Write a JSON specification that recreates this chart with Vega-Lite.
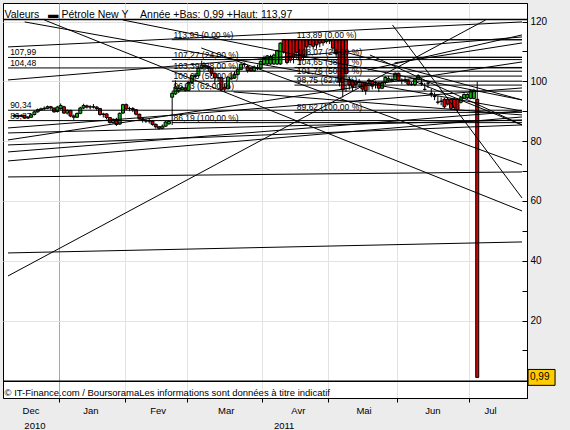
{
"$schema": "https://vega.github.io/schema/vega-lite/v6.json",
"width": 524, "height": 395,
"autosize": {"type": "none"},
"padding": {"left": 3, "top": 3, "right": 43, "bottom": 32},
"background": "#ececec",
"config": {"view": {"stroke": "#000", "strokeWidth": 1, "fill": "#ffffff"}, "font": "Liberation Sans",
  "axis": {"labelFont": "Liberation Sans", "titleFont": "Liberation Sans", "labelColor": "#000", "titleColor": "#000", "titleFontWeight": "normal", "labelFlush": false, "labelBound": false}},
"datasets": {
"candles": [
{"i":-14,"o":88.3,"h":89.1,"l":88.0,"c":88.6},{"i":-13,"o":88.6,"h":88.9,"l":87.9,"c":88.3},{"i":-12,"o":88.3,"h":89.0,"l":88.0,"c":88.6},{"i":-11,"o":88.6,"h":88.8,"l":87.5,"c":87.9},{"i":-10,"o":87.8,"h":88.4,"l":87.4,"c":88.0},{"i":-9,"o":88.0,"h":89.2,"l":87.8,"c":88.8},{"i":-8,"o":88.9,"h":90.2,"l":88.6,"c":89.8},{"i":-7,"o":89.8,"h":90.9,"l":89.5,"c":90.5},{"i":-6,"o":90.4,"h":91.2,"l":90.1,"c":90.8},{"i":-5,"o":90.8,"h":91.6,"l":90.3,"c":91.0},{"i":-4,"o":91.0,"h":91.9,"l":90.7,"c":91.5},{"i":-3,"o":91.5,"h":91.8,"l":90.5,"c":91.1},{"i":-2,"o":91.0,"h":91.3,"l":89.5,"c":89.8},{"i":-1,"o":89.9,"h":91.8,"l":89.6,"c":91.4},
{"i":0,"o":90.9,"h":92.6,"l":90.5,"c":91.9},{"i":1,"o":91.5,"h":91.8,"l":89.1,"c":89.4},{"i":2,"o":89.4,"h":90.6,"l":88.9,"c":90.3},{"i":3,"o":90.3,"h":90.5,"l":88.0,"c":88.4},{"i":4,"o":88.4,"h":88.9,"l":87.1,"c":88.0},{"i":5,"o":88.0,"h":89.6,"l":87.7,"c":89.25},{"i":6,"o":89.3,"h":91.5,"l":89.0,"c":91.1},{"i":7,"o":91.1,"h":92.5,"l":90.7,"c":91.9},{"i":8,"o":91.8,"h":92.2,"l":90.9,"c":91.4},{"i":9,"o":91.4,"h":92.0,"l":90.6,"c":91.5},{"i":10,"o":91.5,"h":92.4,"l":90.9,"c":91.4},{"i":11,"o":91.4,"h":91.7,"l":90.2,"c":90.9},{"i":12,"o":90.9,"h":91.1,"l":88.5,"c":88.9},{"i":13,"o":88.9,"h":89.5,"l":87.9,"c":89.1},{"i":14,"o":89.1,"h":89.3,"l":87.3,"c":87.9},{"i":15,"o":87.9,"h":88.1,"l":85.9,"c":86.2},{"i":16,"o":86.2,"h":87.6,"l":85.8,"c":87.3},{"i":17,"o":87.3,"h":87.8,"l":85.1,"c":85.6},{"i":18,"o":85.7,"h":89.6,"l":85.5,"c":89.3},{"i":19,"o":89.4,"h":92.5,"l":89.1,"c":92.2},
{"i":20,"o":92.2,"h":92.6,"l":90.4,"c":90.8},{"i":21,"o":90.9,"h":91.5,"l":90.0,"c":90.9},{"i":22,"o":90.9,"h":91.4,"l":89.7,"c":90.5},{"i":23,"o":90.5,"h":90.7,"l":88.6,"c":89.0},{"i":24,"o":89.0,"h":89.2,"l":87.2,"c":87.5},{"i":25,"o":87.5,"h":87.9,"l":86.2,"c":86.9},{"i":26,"o":86.9,"h":87.6,"l":86.1,"c":86.7},{"i":27,"o":86.8,"h":87.4,"l":85.9,"c":86.7},{"i":28,"o":86.7,"h":87.0,"l":85.2,"c":85.6},{"i":29,"o":85.6,"h":85.9,"l":84.2,"c":84.8},{"i":30,"o":84.8,"h":85.1,"l":83.8,"c":84.3},{"i":31,"o":84.3,"h":85.6,"l":84.0,"c":85.0},{"i":32,"o":85.0,"h":86.7,"l":84.8,"c":86.4},{"i":33,"o":85.8,"h":86.9,"l":85.5,"c":86.6},{"i":34,"o":94.7,"h":96.6,"l":85.4,"c":96.0},{"i":35,"o":95.8,"h":100.3,"l":95.5,"c":98.1},{"i":36,"o":96.8,"h":98.8,"l":96.1,"c":97.6},{"i":37,"o":97.2,"h":98.5,"l":96.8,"c":97.9},{"i":38,"o":97.8,"h":99.2,"l":96.6,"c":97.0},
{"i":39,"o":97.0,"h":100.0,"l":96.8,"c":99.6},{"i":40,"o":99.6,"h":102.2,"l":99.3,"c":101.9},{"i":41,"o":101.6,"h":102.8,"l":100.6,"c":101.9},{"i":42,"o":101.9,"h":104.9,"l":101.6,"c":104.4},{"i":43,"o":104.4,"h":106.9,"l":104.0,"c":105.4},{"i":44,"o":105.4,"h":105.9,"l":103.8,"c":105.0},{"i":45,"o":105.0,"h":105.3,"l":103.2,"c":104.4},{"i":46,"o":104.4,"h":104.6,"l":101.8,"c":102.7},{"i":47,"o":102.7,"h":103.0,"l":99.0,"c":101.2},{"i":48,"o":101.3,"h":102.4,"l":100.0,"c":101.2},{"i":49,"o":101.2,"h":101.5,"l":96.8,"c":97.2},{"i":50,"o":98.0,"h":99.3,"l":96.5,"c":97.4},{"i":51,"o":97.5,"h":101.9,"l":97.3,"c":101.4},{"i":52,"o":100.8,"h":103.1,"l":100.5,"c":101.1},{"i":53,"o":101.1,"h":103.3,"l":100.8,"c":102.3},{"i":54,"o":102.3,"h":104.3,"l":102.0,"c":104.0},{"i":55,"o":104.0,"h":106.0,"l":103.7,"c":105.75},{"i":56,"o":105.75,"h":106.3,"l":104.8,"c":105.6},{"i":57,"o":105.0,"h":105.5,"l":102.9,"c":103.6},{"i":58,"o":104.4,"h":104.8,"l":103.2,"c":103.5},{"i":59,"o":103.5,"h":105.3,"l":103.2,"c":104.8},{"i":60,"o":104.5,"h":105.6,"l":103.7,"c":104.3},{"i":61,"o":104.3,"h":107.0,"l":104.0,"c":106.7},
{"i":62,"o":105.8,"h":108.6,"l":105.5,"c":107.9},{"i":63,"o":105.8,"h":108.8,"l":105.5,"c":108.5},{"i":64,"o":105.8,"h":108.9,"l":105.5,"c":108.3},{"i":65,"o":105.8,"h":109.3,"l":105.5,"c":108.8},{"i":66,"o":105.8,"h":110.6,"l":105.5,"c":110.3},{"i":67,"o":105.8,"h":113.0,"l":105.5,"c":112.8},{"i":68,"o":113.93,"h":113.93,"l":109.3,"c":109.9},{"i":69,"o":113.93,"h":113.93,"l":105.7,"c":106.3},{"i":70,"o":113.93,"h":113.93,"l":106.2,"c":107.1},{"i":71,"o":113.93,"h":113.93,"l":106.0,"c":108.1},{"i":72,"o":113.93,"h":113.93,"l":107.5,"c":109.7},{"i":73,"o":113.93,"h":113.93,"l":105.4,"c":107.1},{"i":74,"o":113.93,"h":113.93,"l":106.9,"c":108.2},{"i":75,"o":113.93,"h":113.93,"l":108.3,"c":111.5},{"i":76,"o":113.93,"h":113.93,"l":111.0,"c":112.3},{"i":77,"o":113.93,"h":113.93,"l":110.6,"c":111.7},{"i":78,"o":113.93,"h":113.93,"l":110.9,"c":112.2},{"i":79,"o":113.93,"h":113.93,"l":111.4,"c":112.8},{"i":80,"o":113.93,"h":113.93,"l":111.9,"c":112.9},{"i":81,"o":113.3,"h":114.3,"l":112.6,"c":113.9},
{"i":82,"o":113.89,"h":114.0,"l":112.5,"c":113.5},{"i":83,"o":113.89,"h":113.89,"l":110.0,"c":111.1},{"i":84,"o":113.89,"h":113.89,"l":108.0,"c":109.2},{"i":85,"o":113.89,"h":113.89,"l":98.3,"c":99.8},{"i":86,"o":113.89,"h":113.89,"l":94.6,"c":97.2},{"i":87,"o":113.89,"h":113.89,"l":96.5,"c":102.6},{"i":88,"o":100.6,"h":101.6,"l":97.2,"c":98.8},{"i":89,"o":100.2,"h":100.7,"l":96.8,"c":98.2},{"i":90,"o":99.8,"h":100.5,"l":97.6,"c":99.0},{"i":91,"o":100.0,"h":100.8,"l":98.2,"c":99.6},{"i":92,"o":99.6,"h":99.9,"l":96.5,"c":97.4},{"i":93,"o":99.5,"h":99.8,"l":95.5,"c":96.9},{"i":94,"o":100.4,"h":101.0,"l":97.0,"c":100.1},{"i":95,"o":100.1,"h":100.5,"l":97.3,"c":98.4},{"i":96,"o":99.6,"h":100.2,"l":97.6,"c":99.5},{"i":97,"o":99.5,"h":99.9,"l":96.4,"c":97.7},{"i":98,"o":97.7,"h":100.0,"l":97.4,"c":99.6},{"i":99,"o":99.6,"h":101.7,"l":99.0,"c":101.3},{"i":100,"o":100.4,"h":101.8,"l":99.8,"c":100.9},{"i":101,"o":100.2,"h":101.3,"l":99.7,"c":100.6},{"i":102,"o":100.6,"h":103.0,"l":100.3,"c":102.7},
{"i":103,"o":102.7,"h":102.9,"l":100.0,"c":100.3},{"i":104,"o":100.3,"h":101.0,"l":99.0,"c":100.4},{"i":105,"o":100.4,"h":101.5,"l":99.4,"c":100.2},{"i":106,"o":100.2,"h":100.7,"l":98.6,"c":99.0},{"i":107,"o":99.0,"h":99.8,"l":98.5,"c":98.9},{"i":108,"o":98.9,"h":101.0,"l":98.4,"c":100.7},{"i":109,"o":100.7,"h":102.4,"l":100.4,"c":101.9},{"i":110,"o":99.4,"h":101.0,"l":98.5,"c":99.3},{"i":111,"o":97.3,"h":99.5,"l":96.9,"c":97.3},{"i":112,"o":99.4,"h":99.9,"l":97.8,"c":99.4},{"i":113,"o":96.0,"h":97.5,"l":94.7,"c":95.9},{"i":114,"o":95.0,"h":96.3,"l":93.7,"c":94.9},{"i":115,"o":93.1,"h":95.1,"l":92.3,"c":93.0},{"i":116,"o":93.4,"h":94.6,"l":92.0,"c":93.3},{"i":117,"o":94.0,"h":94.4,"l":91.0,"c":91.5},{"i":118,"o":94.0,"h":94.5,"l":91.9,"c":92.4},{"i":119,"o":94.0,"h":94.4,"l":90.4,"c":91.0},{"i":120,"o":94.0,"h":94.4,"l":90.3,"c":91.2},{"i":121,"o":94.0,"h":94.3,"l":89.7,"c":90.6},{"i":122,"o":93.0,"h":94.9,"l":92.6,"c":94.5},{"i":123,"o":94.3,"h":96.0,"l":94.0,"c":95.6},{"i":124,"o":94.5,"h":96.0,"l":94.1,"c":95.6},
{"i":125,"o":94.3,"h":97.3,"l":94.0,"c":96.8},{"i":126,"o":94.3,"h":97.5,"l":94.0,"c":97.0},{"i":127,"o":94.0,"h":99.9,"l":0.99,"c":0.99}
],
"lines": [
{"i":-16.05,"i2":129.58,"p":34.92,"p2":120.53},{"i":-4.99,"i2":140.65,"p":120.53,"p2":56.66},{"i":42.86,"i2":140.65,"p":111.17,"p2":72.04},{"i":101.17,"i2":140.65,"p":118.86,"p2":61.0},{"i":-16.05,"i2":140.65,"p":68.03,"p2":69.7},{"i":-16.05,"i2":140.65,"p":42.61,"p2":46.29},{"i":-16.05,"i2":140.65,"p":80.4,"p2":106.49},{"i":-16.05,"i2":140.65,"p":76.39,"p2":90.1},{"i":-16.05,"i2":140.65,"p":73.38,"p2":88.09},{"i":-10.97,"i2":140.65,"p":119.87,"p2":90.1},{"i":-16.05,"i2":140.65,"p":84.41,"p2":97.79},{"i":-16.05,"i2":140.65,"p":111.51,"p2":119.87},{"i":18.94,"i2":140.65,"p":120.53,"p2":93.78},{"i":52.73,"i2":140.65,"p":96.45,"p2":88.76},{"i":94.3,"i2":140.65,"p":108.83,"p2":85.42},{"i":108.35,"i2":140.65,"p":99.8,"p2":85.42},{"i":87.72,"i2":140.65,"p":109.5,"p2":93.78},{"i":93.7,"i2":140.65,"p":103.81,"p2":115.52},{"i":101.77,"i2":140.65,"p":106.15,"p2":112.84},{"i":-16.05,"i2":140.65,"p":100.47,"p2":114.85},{"i":-16.05,"i2":140.65,"p":82.74,"p2":87.09},{"i":-16.05,"i2":140.65,"p":78.73,"p2":85.42},
{"i":-16.05,"i2":140.65,"p":107.99,"p2":107.99},{"i":-16.05,"i2":140.65,"p":104.48,"p2":104.48},{"i":-16.05,"i2":140.65,"p":90.34,"p2":90.34},{"i":-16.05,"i2":140.65,"p":86.87,"p2":86.87},
{"i":33.89,"i2":140.65,"p":113.93,"p2":113.93},{"i":33.89,"i2":140.65,"p":107.27,"p2":107.27},{"i":33.89,"i2":140.65,"p":103.39,"p2":103.39},{"i":33.89,"i2":140.65,"p":100.06,"p2":100.06},{"i":33.89,"i2":140.65,"p":96.73,"p2":96.73},{"i":33.89,"i2":140.65,"p":86.19,"p2":86.19},
{"i":71.27,"i2":140.65,"p":113.89,"p2":113.89},{"i":71.27,"i2":140.65,"p":108.07,"p2":108.07},{"i":71.27,"i2":140.65,"p":104.65,"p2":104.65},{"i":71.27,"i2":140.65,"p":101.76,"p2":101.76},{"i":71.27,"i2":140.65,"p":98.75,"p2":98.75},{"i":71.27,"i2":140.65,"p":89.62,"p2":89.62}
],
"labels": [
{"i":-15.4,"p":107.99,"t":"107,99"},{"i":-15.4,"p":104.48,"t":"104,48"},{"i":-15.4,"p":90.34,"t":"90,34"},{"i":-15.4,"p":86.87,"t":"86,87"},
{"i":34.4,"p":113.93,"t":"113,93 (0,00 %)"},{"i":34.4,"p":107.27,"t":"107,27 (24,00 %)"},{"i":34.4,"p":103.39,"t":"103,39 (38,00 %)"},{"i":34.4,"p":100.06,"t":"100,06 (50,00 %)"},{"i":34.4,"p":96.73,"t":"96,73 (62,00 %)"},{"i":34.4,"p":86.19,"t":"86,19 (100,00 %)"},
{"i":72.0,"p":113.89,"t":"113,89 (0,00 %)"},{"i":72.0,"p":108.07,"t":"108,07 (24,00 %)"},{"i":72.0,"p":104.65,"t":"104,65 (38,00 %)"},{"i":72.0,"p":101.76,"t":"101,76 (50,00 %)"},{"i":72.0,"p":98.75,"t":"98,75 (62,00 %)"},{"i":72.0,"p":89.62,"t":"89,62 (100,00 %)"}
],
"frame": [{"p":120.7},{"p":-0.3}],
"tag": [{"p":0.99,"t":"0,99"}]
},
"layer": [
{"data": {"name": "candles"}, "mark": {"type": "rule", "color": "#000", "strokeWidth": 1},
 "encoding": {
  "x": {"field": "i", "type": "quantitative", "scale": {"domain": [-16.05, 140.65], "nice": false, "zero": false},
        "axis": {"orient": "bottom", "values": [-0.5, 19.5, 38.5, 61.5, 81.5, 102.5, 124.5], "labels": false, "ticks": true, "tickSize": 4, "tickColor": "#000", "domain": true, "domainColor": "#000",
                 "grid": true, "gridColor": {"condition": {"test": "datum.value < 0", "value": "#a8a8a8"}, "value": "#e3e3e3"},
                 "title": "© IT-Finance.com / BoursoramaLes informations sont données à titre indicatif", "titleX": 1, "titleY": -6, "titleAlign": "left", "titleBaseline": "middle", "titleFontSize": 9.5}},
  "y": {"field": "l", "type": "quantitative", "scale": {"domain": [-5.9, 126.2], "nice": false, "zero": false}, "axis": null},
  "y2": {"field": "h"}}},
{"data": {"name": "candles"}, "mark": {"type": "bar", "size": 3, "stroke": "#000", "strokeWidth": 1},
 "encoding": {
  "x": {"field": "i", "type": "quantitative", "scale": {"domain": [-16.05, 140.65], "nice": false, "zero": false},
        "axis": {"orient": "bottom", "values": [-9.2, 9.07, 29.55, 50.34, 72.3, 92.35, 113.3, 130.9], "ticks": false, "tickSize": 0, "domain": false, "grid": false, "labelPadding": 7, "labelFontSize": 9.5,
                 "labelExpr": "datum.value < 0 ? 'Dec' : datum.value < 20 ? 'Jan' : datum.value < 40 ? 'Fev' : datum.value < 60 ? 'Mar' : datum.value < 80 ? 'Avr' : datum.value < 100 ? 'Mai' : datum.value < 120 ? 'Jun' : 'Jul'", "title": null}},
  "y": {"field": "o", "type": "quantitative", "scale": {"domain": [-5.9, 126.2], "nice": false, "zero": false},
        "axis": {"orient": "right", "values": [10,20,30,40,50,60,70,80,90,100,110,120], "labelExpr": "datum.value % 20 == 0 ? datum.value : ''", "tickSize": -5, "tickColor": "#000", "labelPadding": 8, "labelFontSize": 10, "domain": true, "domainColor": "#000",
                 "grid": true, "gridColor": "#e3e3e3", "gridOpacity": {"condition": {"test": "datum.value % 20 == 0", "value": 1}, "value": 0},
                 "title": "Valeurs\u00a0\u00a0\u00a0▬\u00a0Pétrole New Y\u00a0\u00a0\u00a0\u00a0Année +Bas: 0,99 +Haut: 113,97", "titleAngle": 0, "titleX": -523, "titleY": 11, "titleAlign": "left", "titleBaseline": "middle", "titleFontSize": 10.5}},
  "y2": {"field": "c"},
  "color": {"condition": {"test": "datum.c >= datum.o", "value": "#0fb80f"}, "value": "#d80000"}}},
{"data": {"name": "lines"}, "mark": {"type": "rule", "color": "#000", "strokeWidth": 1},
 "encoding": {
  "x": {"field": "i", "type": "quantitative", "scale": {"domain": [-16.05, 140.65], "nice": false, "zero": false}, "axis": null},
  "x2": {"field": "i2"},
  "y": {"field": "p", "type": "quantitative", "scale": {"domain": [-5.9, 126.2], "nice": false, "zero": false}, "axis": null},
  "y2": {"field": "p2"}}},
{"data": {"name": "frame"}, "mark": {"type": "rule", "color": "#000", "strokeWidth": 1.5},
 "encoding": {
  "y": {"field": "p", "type": "quantitative", "scale": {"domain": [-5.9, 126.2], "nice": false, "zero": false}, "axis": null}}},
{"data": {"name": "labels"}, "mark": {"type": "text", "align": "left", "baseline": "alphabetic", "dy": -2, "fontSize": 8.5, "color": "#000"},
 "encoding": {
  "x": {"field": "i", "type": "quantitative", "scale": {"domain": [-16.05, 140.65], "nice": false, "zero": false},
        "axis": {"orient": "bottom", "values": [-8.0, 68.0], "ticks": false, "tickSize": 0, "domain": false, "grid": false, "labelPadding": 22, "labelFontSize": 9.5, "labelExpr": "datum.value < 0 ? '2010' : '2011'", "title": null}},
  "y": {"field": "p", "type": "quantitative", "scale": {"domain": [-5.9, 126.2], "nice": false, "zero": false}, "axis": null},
  "text": {"field": "t"}}},
{"data": {"name": "tag"}, "mark": {"type": "point", "shape": "M0.07,-0.53H1.87V0.53H0.07Z", "size": 900, "filled": true, "fill": "#ffcc00", "stroke": "#000", "strokeWidth": 1, "opacity": 1},
 "encoding": {
  "x": {"value": "width"},
  "y": {"field": "p", "type": "quantitative", "scale": {"domain": [-5.9, 126.2], "nice": false, "zero": false}, "axis": null}}},
{"data": {"name": "tag"}, "mark": {"type": "text", "align": "left", "baseline": "middle", "dx": 3, "fontSize": 10, "color": "#000"},
 "encoding": {
  "x": {"value": "width"},
  "y": {"field": "p", "type": "quantitative", "scale": {"domain": [-5.9, 126.2], "nice": false, "zero": false}, "axis": null},
  "text": {"field": "t"}}}
],
"resolve": {"axis": {"x": "independent", "y": "independent"}}
}
